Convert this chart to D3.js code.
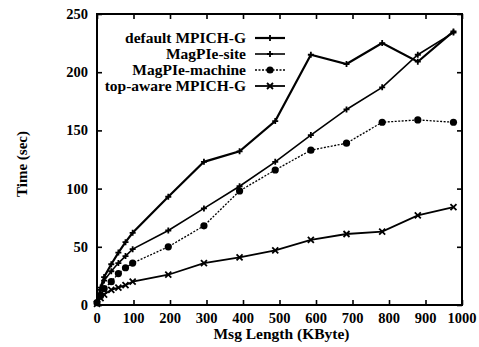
<!DOCTYPE html>
<html>
<head>
<meta charset="utf-8">
<script src="https://cdn.jsdelivr.net/npm/d3@7"></script>
<style>
  body { margin: 0; background: #fff; }
  text { font-family: "Liberation Serif", "DejaVu Serif", serif; font-weight: bold; fill: #000; }
</style>
</head>
<body>
<svg width="479" height="347"></svg>
<script>
var svg = d3.select("svg");

// message sizes in KByte (multiples of 100000 bytes / 1024)
var msgLen = [0, 9.8, 19.5, 39.1, 58.6, 78.1, 97.7, 195.3, 293, 390.6, 488.3, 585.9, 683.6, 781.3, 878.9, 976.6];

var seriesNames = ["default MPICH-G", "MagPIe-site", "MagPIe-machine", "top-aware MPICH-G"];
var defaultMpich = [2, 15, 24, 35, 45, 54, 62, 93, 123, 132, 158, 215, 207, 225, 209, 235];
var magpieSite = [2, 13, 21, 29, 36, 42, 48, 64, 83, 102, 123, 146, 168, 187, 215, 234];
var magpieMachine = [2, 8, 14, 20, 27, 32, 36, 50, 68, 98, 116, 133, 139, 157, 159, 157];
var topAware = [1, 6, 9, 13, 15, 17, 20, 26, 36, 41, 47, 56, 61, 63, 77, 84];

var xTicks = [0, 100, 200, 300, 400, 500, 600, 700, 800, 900, 1000];
var yTicks = [0, 50, 100, 150, 200, 250];

var series = [
  { name: seriesNames[0], values: defaultMpich, width: 2.2, dash: null, marker: "plus" },
  { name: seriesNames[1], values: magpieSite, width: 1.6, dash: null, marker: "plus" },
  { name: seriesNames[2], values: magpieMachine, width: 1.3, dash: "2,1.5", marker: "dot" },
  { name: seriesNames[3], values: topAware, width: 1.8, dash: null, marker: "cross" }
];

var plotL = 97, plotR = 462, plotT = 14, plotB = 305;

var x = d3.scaleLinear().domain([0, 1000]).range([plotL, plotR]);
var y = d3.scaleLinear().domain([0, 250]).range([plotB, plotT]);

// axes: ticks inside the frame on all four sides
svg.append("g")
  .attr("transform", "translate(0," + plotB + ")")
  .call(d3.axisTop(x).tickValues(xTicks).tickSize(5).tickFormat(""))
  .call(g => g.select(".domain").remove());
svg.append("g")
  .attr("transform", "translate(0," + plotT + ")")
  .call(d3.axisBottom(x).tickValues(xTicks).tickSize(5).tickFormat(""))
  .call(g => g.select(".domain").remove());
svg.append("g")
  .attr("transform", "translate(" + plotL + ",0)")
  .call(d3.axisRight(y).tickValues(yTicks).tickSize(5).tickFormat(""))
  .call(g => g.select(".domain").remove());
svg.append("g")
  .attr("transform", "translate(" + plotR + ",0)")
  .call(d3.axisLeft(y).tickValues(yTicks).tickSize(5).tickFormat(""))
  .call(g => g.select(".domain").remove());
svg.selectAll(".tick line").attr("stroke", "#000").attr("stroke-width", 1.6);

// tick labels
svg.append("g").selectAll("text")
  .data(xTicks)
  .enter().append("text")
  .attr("x", d => x(d))
  .attr("y", plotB + 18)
  .attr("text-anchor", "middle")
  .attr("font-size", 14.5)
  .text(d => d);
svg.append("g").selectAll("text")
  .data(yTicks)
  .enter().append("text")
  .attr("x", plotL - 9)
  .attr("y", d => y(d) + 5)
  .attr("text-anchor", "end")
  .attr("font-size", 14.5)
  .text(d => d);

// frame
svg.append("rect")
  .attr("x", plotL).attr("y", plotT)
  .attr("width", plotR - plotL).attr("height", plotB - plotT)
  .attr("fill", "none").attr("stroke", "#000").attr("stroke-width", 2);

// axis titles
svg.append("text")
  .attr("x", (plotL + plotR) / 2 + 2)
  .attr("y", 339)
  .attr("text-anchor", "middle")
  .attr("font-size", 15.5)
  .text("Msg Length (KByte)");
svg.append("text")
  .attr("transform", "translate(27,164) rotate(-90)")
  .attr("text-anchor", "middle")
  .attr("font-size", 15)
  .text("Time (sec)");

function drawMarker(g, kind, cx, cy) {
  if (kind === "dot") {
    g.append("circle").attr("cx", cx).attr("cy", cy).attr("r", 3.6).attr("fill", "#000");
  } else if (kind === "plus") {
    g.append("path")
      .attr("d", "M" + (cx - 3) + "," + cy + "H" + (cx + 3) + "M" + cx + "," + (cy - 3) + "V" + (cy + 3))
      .attr("stroke", "#000").attr("stroke-width", 1.8);
  } else {
    g.append("path")
      .attr("d", "M" + (cx - 3) + "," + (cy - 3) + "L" + (cx + 3) + "," + (cy + 3) +
        "M" + (cx - 3) + "," + (cy + 3) + "L" + (cx + 3) + "," + (cy - 3))
      .attr("stroke", "#000").attr("stroke-width", 1.8);
  }
}

var line = d3.line()
  .x(d => x(d[0]))
  .y(d => y(d[1]));

series.forEach(function(s, i) {
  var pts = msgLen.map((m, j) => [m, s.values[j]]);
  var g = svg.append("g");
  g.append("path")
    .datum(pts)
    .attr("d", line)
    .attr("fill", "none")
    .attr("stroke", "#000")
    .attr("stroke-width", s.width)
    .attr("stroke-dasharray", s.dash);
  pts.forEach(p => drawMarker(g, s.marker, x(p[0]), y(p[1])));

  // legend entry
  var ly = 38 + i * 16;
  svg.append("text")
    .attr("x", 246)
    .attr("y", ly + 5)
    .attr("text-anchor", "end")
    .attr("font-size", 15.5)
    .text(s.name);
  var lg = svg.append("g");
  lg.append("line")
    .attr("x1", 255).attr("x2", 285)
    .attr("y1", ly).attr("y2", ly)
    .attr("stroke", "#000")
    .attr("stroke-width", s.width)
    .attr("stroke-dasharray", s.dash);
  drawMarker(lg, s.marker, 270, ly);
});
</script>
</body>
</html>
